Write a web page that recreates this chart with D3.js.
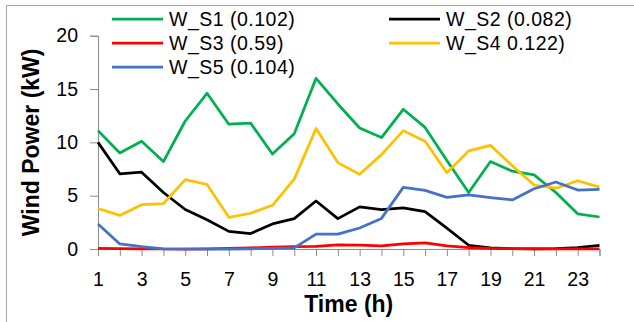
<!DOCTYPE html>
<html>
<head>
<meta charset="utf-8">
<script src="https://cdn.jsdelivr.net/npm/d3@7/dist/d3.min.js"></script>
<style>
  html, body { margin: 0; padding: 0; background: #fff; }
  svg { display: block; font-family: "Liberation Sans", Arial, sans-serif; }
</style>
</head>
<body>
<svg id="chart" width="634" height="322"></svg>
<script>
// Hourly wind power per site (kW)
const hours = d3.range(1, 25);
const xTickLabels = [1, 3, 5, 7, 9, 11, 13, 15, 17, 19, 21, 23];
const yTickLabels = [0, 5, 10, 15, 20];

const seriesNames = ["W_S1 (0.102)", "W_S2 (0.082)", "W_S3 (0.59)", "W_S4 0.122)", "W_S5 (0.104)"];
const seriesColors = ["#00B050", "#000000", "#FF0000", "#FFC000", "#4472C4"];

const wS1 = [11.1, 9.0, 10.1, 8.2, 12.0, 14.6, 11.7, 11.8, 8.9, 10.8, 16.0, 13.6, 11.35, 10.45, 13.1, 11.4, 8.3, 5.3, 8.2, 7.3, 6.95, 5.3, 3.3, 3.0];
const wS2 = [10.0, 7.05, 7.2, 5.3, 3.7, 2.75, 1.65, 1.45, 2.35, 2.85, 4.5, 2.85, 3.95, 3.7, 3.85, 3.5, 1.95, 0.35, 0.1, 0.03, 0.02, 0.03, 0.12, 0.35];
const wS3 = [0.07, 0.03, 0.02, 0.0, 0.0, 0.02, 0.05, 0.1, 0.18, 0.22, 0.25, 0.38, 0.37, 0.3, 0.48, 0.58, 0.3, 0.12, 0.05, 0.03, 0.02, 0.02, 0.02, 0.02];
const wS4 = [3.8, 3.15, 4.15, 4.25, 6.5, 6.05, 2.97, 3.35, 4.1, 6.55, 11.3, 8.1, 7.0, 8.85, 11.1, 10.1, 7.15, 9.2, 9.72, 7.8, 6.0, 5.7, 6.4, 5.8];
const wS5 = [2.35, 0.47, 0.22, 0.02, 0.0, 0.0, 0.0, 0.02, 0.05, 0.1, 1.4, 1.4, 1.97, 2.87, 5.78, 5.5, 4.84, 5.08, 4.82, 4.6, 5.65, 6.28, 5.53, 5.59];

const seriesValues = [wS1, wS2, wS3, wS4, wS5];

const svg = d3.select("#chart");

// outer frame
svg.append("rect")
  .attr("x", 6.5).attr("y", 5.5)
  .attr("width", 700).attr("height", 400)
  .attr("fill", "none").attr("stroke", "#a6a6a6").attr("stroke-width", 1);

const x = d3.scaleLinear().domain([1, 24]).range([98, 599.5]);
const y = d3.scaleLinear().domain([0, 20]).range([249, 35.7]);

const axisColor = "#8c8c8c";

// y axis
const yAxis = svg.append("g")
  .attr("transform", `translate(${x.range()[0]},0)`)
  .call(d3.axisLeft(y).tickValues(yTickLabels).tickSize(8).tickPadding(12));
yAxis.select(".domain").attr("stroke", axisColor);
yAxis.selectAll(".tick line").attr("stroke", axisColor);
yAxis.selectAll(".tick text")
  .attr("font-family", "Liberation Sans, Arial, sans-serif")
  .attr("font-size", 19.5).attr("fill", "#000");

// x axis
const xAxis = svg.append("g")
  .attr("transform", `translate(0,${y(0)})`)
  .call(d3.axisBottom(x).tickValues(hours).tickSize(7).tickPadding(16)
    .tickFormat(d => xTickLabels.includes(d) ? d : ""));
xAxis.select(".domain").attr("stroke", axisColor);
xAxis.selectAll(".tick line").attr("stroke", axisColor);
xAxis.selectAll(".tick text")
  .attr("font-family", "Liberation Sans, Arial, sans-serif")
  .attr("font-size", 19.5).attr("fill", "#000");

// axis titles
svg.append("text")
  .attr("x", (x.range()[0] + x.range()[1]) / 2).attr("y", 304)
  .attr("text-anchor", "middle").attr("dominant-baseline", "central")
  .attr("font-size", 23).attr("font-weight", "bold")
  .text("Time (h)");

svg.append("text")
  .attr("transform", `translate(31,${(y(0) + y(20)) / 2}) rotate(-90)`)
  .attr("text-anchor", "middle").attr("dominant-baseline", "central")
  .attr("font-size", 23).attr("font-weight", "bold")
  .text("Wind Power (kW)");

// series lines
const line = d3.line().x((d, i) => x(hours[i])).y(d => y(d));
seriesValues.forEach((vals, k) => {
  svg.append("path")
    .datum(vals)
    .attr("d", line)
    .attr("fill", "none")
    .attr("stroke", seriesColors[k])
    .attr("stroke-width", 2.75)
    .attr("stroke-linejoin", "round");
});

// legend: two columns, filled row by row
const legendPos = [
  { lx: 112, ly: 19 }, { lx: 389, ly: 19 },
  { lx: 112, ly: 43 }, { lx: 389, ly: 43 },
  { lx: 112, ly: 67 }
];
const legend = svg.append("g");
seriesNames.forEach((name, k) => {
  const p = legendPos[k];
  legend.append("line")
    .attr("x1", p.lx).attr("x2", p.lx + 51)
    .attr("y1", p.ly).attr("y2", p.ly)
    .attr("stroke", seriesColors[k]).attr("stroke-width", 2.75);
  legend.append("text")
    .attr("x", p.lx + 57).attr("y", p.ly)
    .attr("dominant-baseline", "central")
    .attr("font-size", 19.5).attr("letter-spacing", 0.5).attr("fill", "#000")
    .text(name);
});
</script>
</body>
</html>
